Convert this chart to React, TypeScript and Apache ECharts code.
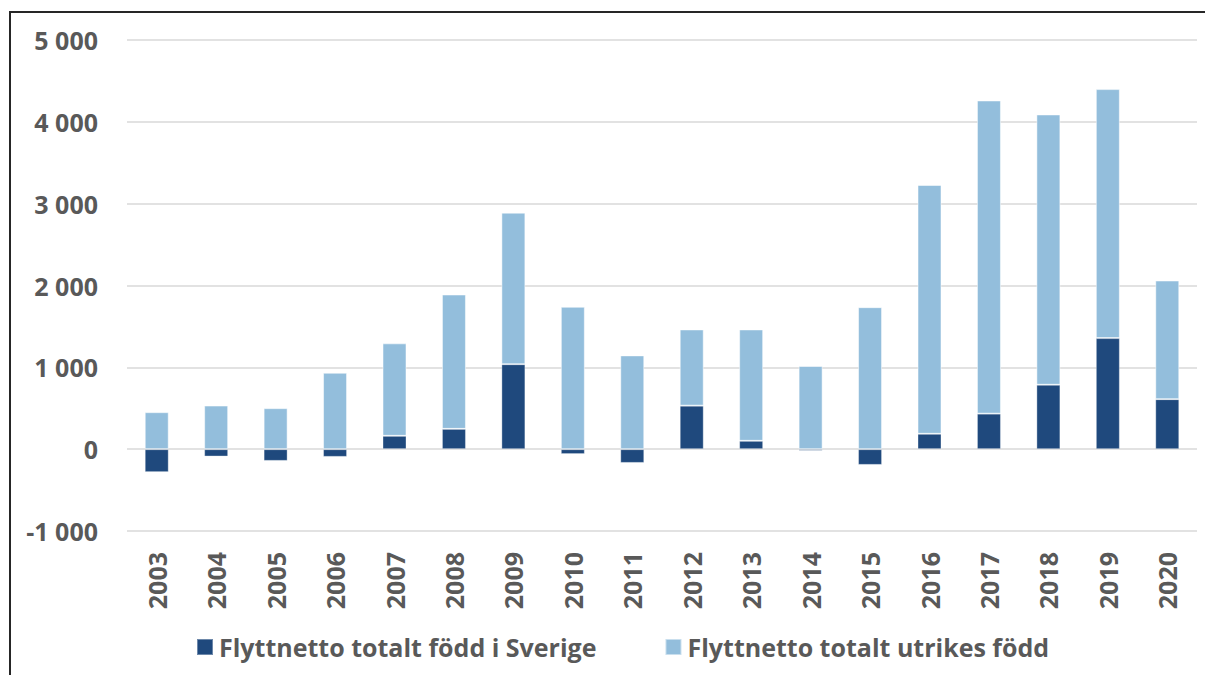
import React, { useEffect, useRef } from "react";
import * as echarts from "echarts";

const years = ["2003","2004","2005","2006","2007","2008","2009","2010","2011","2012","2013","2014","2015","2016","2017","2018","2019","2020"];
const fodd_i_sverige = [-281, -90, -143, -94, 163, 248, 1038, -60, -168, 532, 102, -20, -192, 188, 434, 787, 1357, 611];
const utrikes_fodd = [452, 533, 501, 934, 1130, 1642, 1852, 1740, 1146, 931, 1361, 1016, 1735, 3040, 3827, 3303, 3043, 1450];
const seriesNames = ["Flyttnetto totalt född i Sverige", "Flyttnetto totalt utrikes född"];
const yMin = -1000;
const yMax = 5000;
const yStep = 1000;

const FONT = "'Open Sans', 'Noto Sans', sans-serif";
const TEXT = "#595959";

function fmt(v: number): string {
  const s = Math.abs(v).toString().replace(/\B(?=(\d{3})+(?!\d))/g, " ");
  return (v < 0 ? "-" : "") + s;
}

export default function App() {
  const ref = useRef<HTMLDivElement>(null);
  useEffect(() => {
    if (!ref.current) return;
    const chart = echarts.init(ref.current, null, { renderer: "svg" });
    chart.setOption({
      animation: false,
      backgroundColor: "transparent",
      grid: { left: 127, right: 8, top: 40, bottom: 144, containLabel: false },
      legend: {
        data: seriesNames,
        left: 196,
        top: 631,
        padding: 0,
        itemWidth: 16,
        itemHeight: 16,
        itemGap: 68,
        icon: "rect",
        textStyle: {
          color: TEXT,
          fontFamily: FONT,
          fontWeight: "bold",
          fontSize: 25,
          lineHeight: 32,
          padding: [0, 0, 0, 1],
        },
      },
      xAxis: {
        type: "category",
        data: years,
        axisLine: { show: false },
        axisTick: { show: false },
        axisLabel: {
          rotate: 90,
          margin: 21,
          color: TEXT,
          fontFamily: FONT,
          fontWeight: "bold",
          fontSize: 25,
        },
      },
      yAxis: {
        type: "value",
        min: yMin,
        max: yMax,
        interval: yStep,
        axisLine: { show: false },
        axisTick: { show: false },
        splitLine: { show: true, lineStyle: { color: "#d9d9d9", width: 1.5 } },
        axisLabel: {
          margin: 29,
          color: TEXT,
          fontFamily: FONT,
          fontWeight: "bold",
          fontSize: 25,
          formatter: (v: number) => fmt(v),
        },
      },
      series: [
        {
          name: seriesNames[0],
          type: "bar",
          stack: "total",
          data: fodd_i_sverige,
          barWidth: 24,
          itemStyle: { color: "#1F497D", borderColor: "rgba(255,255,255,0.35)", borderWidth: 1 },
        },
        {
          name: seriesNames[1],
          type: "bar",
          stack: "total",
          data: utrikes_fodd,
          barWidth: 24,
          itemStyle: { color: "#93BEDC", borderColor: "rgba(255,255,255,0.5)", borderWidth: 1 },
        },
      ],
    });
    return () => chart.dispose();
  }, []);

  return (
    <div style={{ position: "fixed", left: 0, top: 0, width: 1205, height: 675, background: "#fff", overflow: "hidden" }}>
      <div style={{ position: "absolute", left: 9, top: 11, width: 1300, height: 800, borderLeft: "2px solid #262626", borderTop: "2px solid #262626" }} />
      <div ref={ref} style={{ position: "absolute", left: 0, top: 0, width: 1205, height: 675 }} />
    </div>
  );
}
